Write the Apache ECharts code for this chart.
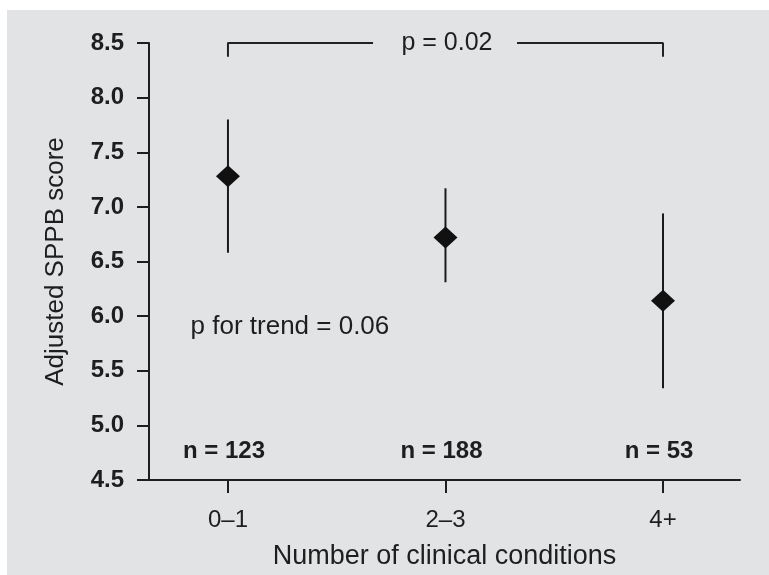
<!DOCTYPE html>
<html>
<head>
<meta charset="utf-8">
<script src="https://cdn.jsdelivr.net/npm/echarts@6/dist/echarts.min.js"></script>
<style>
html,body{margin:0;padding:0;background:#fff;width:769px;height:575px;overflow:hidden;}
#chart{display:block;width:769px;height:575px;}
</style>
</head>
<body>
<div id="chart"></div>
<script>
// Data
const categories = ['0\u20131', '2\u20133', '4+'];
const means = [7.28, 6.72, 6.14];
const ciLow = [6.58, 6.31, 5.34];
const ciHigh = [7.80, 7.17, 6.94];
const sampleLabels = ['n = 123', 'n = 188', 'n = 53'];
const yTicks = [4.5, 5.0, 5.5, 6.0, 6.5, 7.0, 7.5, 8.0, 8.5];
const pCompare = 'p = 0.02';
const pTrend = 'p for trend = 0.06';

const FONT = '"Liberation Sans", Arial, Helvetica, sans-serif';
const INK = '#1e1e1e';

const chart = echarts.init(document.getElementById('chart'));

const catIdx = categories.map((c, i) => i);
const pointData = catIdx.map(i => [i, means[i]]);
const ciData = catIdx.map(i => [i, ciLow[i], ciHigh[i]]);
const nData = catIdx.map(i => ({ value: [i, 4.765], name: sampleLabels[i] }));

// bracket geometry in data units (annotation placement)
const bracketY = yTicks[yTicks.length - 1];
const bracketTickY = 8.374;
const bracketLeft = [[0, bracketTickY], [0, bracketY], [0.667, bracketY]];
const bracketRight = [[1.329, bracketY], [2, bracketY], [2, bracketTickY]];

const option = {
  backgroundColor: '#fff',
  animation: false,
  graphic: [{
    type: 'rect', z: -100, silent: true,
    shape: { x: 7, y: 10, width: 800, height: 600 },
    style: { fill: '#e2e3e5' }
  }],
  grid: { left: 149, right: 29, top: 43, bottom: 88, containLabel: false },
  xAxis: {
    type: 'value',
    min: -0.363,
    max: 2.354,
    name: 'Number of clinical conditions',
    nameLocation: 'middle',
    nameGap: 63,
    nameTextStyle: { fontFamily: FONT, fontSize: 27, color: INK },
    axisLine: { show: true, onZero: false, lineStyle: { color: INK, width: 2 } },
    axisTick: { show: true, customValues: catIdx, length: 13, lineStyle: { color: INK, width: 2 } },
    axisLabel: {
      customValues: catIdx,
      formatter: v => categories[Math.round(v)],
      fontFamily: FONT, fontSize: 24, color: INK, margin: 28
    },
    splitLine: { show: false }
  },
  yAxis: {
    type: 'value',
    min: 4.5,
    max: 8.5,
    interval: 0.5,
    name: 'Adjusted SPPB score',
    nameLocation: 'middle',
    nameGap: 80,
    nameTextStyle: { fontFamily: FONT, fontSize: 26, color: INK },
    axisLine: { show: true, onZero: false, lineStyle: { color: INK, width: 2 } },
    axisTick: { show: true, length: 12, lineStyle: { color: INK, width: 2 } },
    axisLabel: {
      formatter: v => v.toFixed(1),
      fontFamily: FONT, fontSize: 24, fontWeight: 'bold', color: INK, margin: 25
    },
    splitLine: { show: false }
  },
  series: [
    {
      type: 'custom',
      clip: false,
      data: ciData,
      renderItem: function (params, api) {
        const x = api.value(0);
        const lo = api.coord([x, api.value(1)]);
        const hi = api.coord([x, api.value(2)]);
        return {
          type: 'line',
          shape: { x1: lo[0], y1: lo[1], x2: hi[0], y2: hi[1] },
          style: { stroke: '#1a1a1a', lineWidth: 2 }
        };
      },
      z: 2
    },
    {
      type: 'scatter',
      data: pointData,
      symbol: 'diamond',
      symbolSize: [24, 22],
      itemStyle: { color: '#111', opacity: 1 },
      z: 3
    },
    {
      type: 'line',
      data: bracketLeft,
      symbol: 'none',
      clip: false,
      lineStyle: { color: '#222', width: 2 },
      z: 2
    },
    {
      type: 'line',
      data: bracketRight,
      symbol: 'none',
      clip: false,
      lineStyle: { color: '#222', width: 2 },
      z: 2
    },
    {
      type: 'scatter',
      symbolSize: 0,
      clip: false,
      data: [{ value: [1.007, bracketY], name: pCompare }],
      label: {
        show: true, position: 'inside', formatter: '{b}',
        fontFamily: FONT, fontSize: 25, color: INK, opacity: 1
      },
      z: 4
    },
    {
      type: 'scatter',
      symbolSize: 0,
      clip: false,
      data: [{ value: [-0.172, 5.90], name: pTrend }],
      label: {
        show: true, position: 'right', distance: 0, formatter: '{b}',
        fontFamily: FONT, fontSize: 26, color: INK, opacity: 1
      },
      z: 4
    },
    {
      type: 'scatter',
      symbolSize: 0,
      clip: false,
      data: nData,
      label: {
        show: true, position: 'inside', formatter: '{b}', offset: [-4, 0],
        fontFamily: FONT, fontSize: 24, fontWeight: 'bold', color: INK, opacity: 1
      },
      z: 4
    }
  ]
};

chart.setOption(option);
</script>
</body>
</html>
